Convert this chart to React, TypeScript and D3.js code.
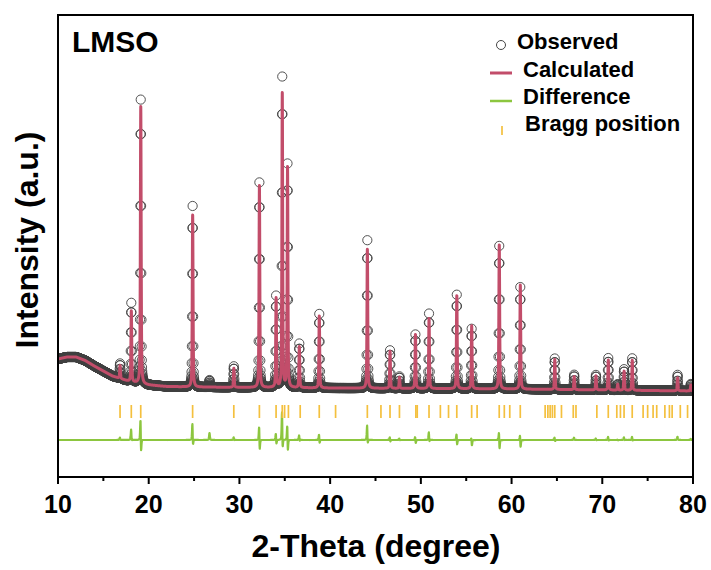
import React, { useMemo } from "react";
import * as d3 from "d3";

const W = 711;
const H = 570;
const FRAME = { left: 58, right: 693, top: 15, bottom: 477 };

// axis ticks
const xMajorTicks = [10, 20, 30, 40, 50, 60, 70, 80];
const xMinorTicks = [15, 25, 35, 45, 55, 65, 75];

// background (2θ, counts)
const bgAngles = [10, 11, 12, 13, 14, 15, 16, 17, 18, 20, 22, 25, 40, 60, 70, 80];
const bgCounts = [1180, 1200, 1200, 1165, 1110, 1060, 1010, 980, 950, 920, 905, 900, 890, 880, 870, 860];

// reflections: position, calculated height, observed height (counts above background)
const peakPos = [16.84, 18.08, 19.12, 24.84, 26.7, 29.38, 32.2, 34.04, 34.72, 35.3, 36.6, 38.8, 44.1, 46.6, 47.64, 49.4, 50.9, 53.96, 55.6, 58.64, 60.96, 64.76, 66.9, 69.3, 70.66, 71.7, 72.4, 73.3, 78.3, 79.76];
const calcHeights = [130, 710, 2770, 1720, 0, 190, 2020, 890, 2940, 2200, 410, 720, 1390, 370, 110, 540, 700, 930, 630, 1440, 1040, 300, 130, 140, 300, 60, 190, 300, 130, 60];
const obsHeights = [150, 790, 2840, 1810, 70, 210, 2050, 910, 3100, 2230, 440, 740, 1480, 380, 120, 540, 750, 940, 600, 1430, 1020, 310, 150, 150, 320, 60, 210, 320, 160, 70];

// Bragg reflection positions
const braggPos = [16.84, 18.08, 19.12, 24.84, 29.38, 32.2, 34.04, 34.72, 34.98, 35.4, 36.7, 38.8, 40.6, 44.1, 45.6, 46.6, 47.64, 49.45, 49.6, 50.9, 52.15, 53.05, 53.96, 55.6, 56.2, 58.64, 59.2, 59.8, 60.96, 63.7, 64.0, 64.25, 64.5, 64.76, 65.5, 66.8, 67.1, 69.4, 70.66, 71.6, 72.0, 72.4, 73.3, 74.5, 75.0, 75.6, 76.0, 76.9, 77.4, 77.7, 78.6, 79.4];

const STEP = 0.02;
const FWHM = 0.1;
const ETA = 0.5;
const CALC_SHIFT = 0.004;
const DIFF_OFFSET = 370;
const BRAGG_TOP = 720;
const BRAGG_BOTTOM = 590;

const RED = "#c24d6a";
const GREEN = "#8cc63f";
const GOLD = "#f4c03e";
const FONT = "'Liberation Sans', Arial, Helvetica, sans-serif";

function pv(dx: number) {
  const g = FWHM / 2;
  const t = (dx / g) * (dx / g);
  return ETA / (1 + t) + (1 - ETA) * Math.exp(-Math.LN2 * t);
}

export default function App() {
  const x = d3.scaleLinear().domain([10, 80]).range([FRAME.left, FRAME.right]);
  const y = d3.scaleLinear().domain([0, 4620]).range([FRAME.bottom, FRAME.top]);
  const bg = d3.scaleLinear().domain(bgAngles).range(bgCounts);

  const { obs, calc, diff } = useMemo(() => {
    const prof = (t: number, heights: number[], shift: number) => {
      let s = bg(t);
      for (let i = 0; i < peakPos.length; i++) {
        const dx = t - (peakPos[i] + shift);
        if (Math.abs(dx) < 3) s += heights[i] * pv(dx);
      }
      return s;
    };
    const n = Math.round(70 / STEP);
    const obs: [number, number][] = [];
    const diff: [number, number][] = [];
    for (let i = 0; i <= n; i++) {
      const t = +(10 + i * STEP).toFixed(4);
      const o = prof(t, obsHeights, 0);
      const c = prof(t, calcHeights, CALC_SHIFT);
      obs.push([t, o]);
      diff.push([t, o - c + DIFF_OFFSET]);
    }
    const calc: [number, number][] = [];
    const m = Math.round(70 / 0.004);
    for (let i = 0; i <= m; i++) {
      const t = 10 + i * 0.004;
      calc.push([t, prof(t, calcHeights, CALC_SHIFT)]);
    }
    return { obs, calc, diff };
  }, []);

  const line = d3
    .line<[number, number]>()
    .x((d) => x(d[0]))
    .y((d) => y(d[1]));

  return (
    <svg
      width={W}
      height={H}
      style={{ position: "absolute", left: 0, top: 0, background: "#fff" }}
      fontFamily={FONT}
    >
      <defs>
        <clipPath id="plotclip">
          <rect x={FRAME.left} y={FRAME.top} width={FRAME.right - FRAME.left} height={FRAME.bottom - FRAME.top} />
        </clipPath>
      </defs>
      <g clipPath="url(#plotclip)">
        <g fill="none" stroke="#404040" strokeWidth={0.9}>
          {obs.map((d, i) => (
            <circle key={i} cx={x(d[0])} cy={y(d[1])} r={4.6} />
          ))}
        </g>
        <path d={line(calc) || ""} fill="none" stroke={RED} strokeWidth={3} strokeLinejoin="round" />
        <path d={line(diff) || ""} fill="none" stroke={GREEN} strokeWidth={2.2} strokeLinejoin="round" />
        <g stroke={GOLD} strokeWidth={1.7}>
          {braggPos.map((p, i) => (
            <line key={i} x1={x(p)} x2={x(p)} y1={y(BRAGG_TOP)} y2={y(BRAGG_BOTTOM)} />
          ))}
        </g>
      </g>

      {/* frame */}
      <rect
        x={FRAME.left}
        y={FRAME.top}
        width={FRAME.right - FRAME.left}
        height={FRAME.bottom - FRAME.top}
        fill="none"
        stroke="#000"
        strokeWidth={2}
      />
      {/* x ticks */}
      <g stroke="#000" strokeWidth={2}>
        {xMajorTicks.map((t) => (
          <line key={t} x1={x(t)} x2={x(t)} y1={FRAME.bottom} y2={FRAME.bottom + 7} />
        ))}
        {xMinorTicks.map((t) => (
          <line key={t} x1={x(t)} x2={x(t)} y1={FRAME.bottom} y2={FRAME.bottom + 4} />
        ))}
      </g>
      <g fontSize={25} fontWeight="bold" textAnchor="middle" fill="#000">
        {xMajorTicks.map((t) => (
          <text key={t} x={x(t)} y={513}>
            {t}
          </text>
        ))}
      </g>
      <text x={376} y={557} fontSize={32} fontWeight="bold" textAnchor="middle">
        2-Theta (degree)
      </text>
      <text
        transform={`translate(38,240) rotate(-90)`}
        fontSize={32}
        fontWeight="bold"
        textAnchor="middle"
      >
        Intensity (a.u.)
      </text>
      <text x={72} y={52} fontSize={30} fontWeight="bold">
        LMSO
      </text>

      {/* legend */}
      <g fontSize={22} fontWeight="bold">
        <circle cx={501} cy={45} r={4.5} fill="none" stroke="#444" strokeWidth={1} />
        <text x={517} y={49}>Observed</text>
        <line x1={490} x2={512} y1={73} y2={73} stroke={RED} strokeWidth={3} />
        <text x={523} y={77}>Calculated</text>
        <line x1={490} x2={512} y1={101} y2={101} stroke={GREEN} strokeWidth={2.5} />
        <text x={523} y={104}>Difference</text>
        <line x1={502} x2={502} y1={126} y2={135} stroke={GOLD} strokeWidth={1.7} />
        <text x={525} y={131}>Bragg position</text>
      </g>
    </svg>
  );
}
